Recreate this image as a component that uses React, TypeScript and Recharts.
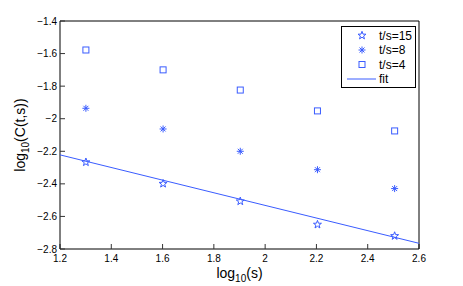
import React from 'react';
import { ComposedChart, Scatter, XAxis, YAxis, Legend } from 'recharts';

const sValues = [1.301, 1.602, 1.903, 2.204, 2.505];
const ts15 = [-2.267, -2.399, -2.507, -2.65, -2.72];
const ts8 = [-1.936, -2.063, -2.2, -2.313, -2.429];
const ts4 = [-1.578, -1.7, -1.824, -1.952, -2.075];
const fitX = [1.2, 2.6];
const fitY = [-2.222, -2.765];
const xTicks = [1.2, 1.4, 1.6, 1.8, 2, 2.2, 2.4, 2.6];
const yTicks = [-2.8, -2.6, -2.4, -2.2, -2, -1.8, -1.6, -1.4];
const seriesNames = ['t/s=15', 't/s=8', 't/s=4', 'fit'];

const BLUE = '#3a5cff';
const FONT = '"Liberation Sans", Arial, Helvetica, sans-serif';

const toPts = (xs: number[], ys: number[]) => xs.map((x, i) => ({ x, y: ys[i] }));
const d15 = toPts(sValues, ts15);
const d8 = toPts(sValues, ts8);
const d4 = toPts(sValues, ts4);
const dFit = toPts(fitX, fitY);

const fmt = (v: number) => String(v).replace('-', '\u2212');

function Pentagram({ cx, cy }: any) {
  const R = 4.2, r = 1.7;
  const pts: string[] = [];
  for (let i = 0; i < 10; i++) {
    const a = -Math.PI / 2 + (i * Math.PI) / 5;
    const rad = i % 2 === 0 ? R : r;
    pts.push(`${cx + rad * Math.cos(a)},${cy + rad * Math.sin(a)}`);
  }
  return <polygon points={pts.join(' ')} fill="none" stroke={BLUE} strokeWidth={1} />;
}

function Asterisk({ cx, cy }: any) {
  const r = 3.5;
  const d = r * 0.7071;
  return (
    <g stroke={BLUE} strokeWidth={1}>
      <line x1={cx - r} y1={cy} x2={cx + r} y2={cy} />
      <line x1={cx} y1={cy - r} x2={cx} y2={cy + r} />
      <line x1={cx - d} y1={cy - d} x2={cx + d} y2={cy + d} />
      <line x1={cx - d} y1={cy + d} x2={cx + d} y2={cy - d} />
    </g>
  );
}

function Square({ cx, cy }: any) {
  const h = 3;
  return <rect x={cx - h} y={cy - h} width={2 * h} height={2 * h} fill="none" stroke={BLUE} strokeWidth={1} />;
}

function Empty() {
  return <g />;
}

function LegendBox() {
  const rows = [9.5, 24, 38.5, 53];
  return (
    <svg width={75} height={62} style={{ display: 'block' }}>
      <rect x={0.5} y={0.5} width={74} height={61} fill="#fff" stroke="#000" strokeWidth={1} />
      <Pentagram cx={21} cy={rows[0]} />
      <Asterisk cx={21} cy={rows[1]} />
      <Square cx={21} cy={rows[2]} />
      <line x1={6} y1={rows[3]} x2={35} y2={rows[3]} stroke={BLUE} strokeWidth={1} />
      {seriesNames.map((n, i) => (
        <text key={n} x={38} y={rows[i] + 4} fontSize={12} fontFamily={FONT} fill="#000">
          {n}
        </text>
      ))}
    </svg>
  );
}

function XLabel(props: any) {
  const { viewBox } = props;
  const cx = viewBox.x + viewBox.width / 2;
  return (
    <text x={cx} y={278} textAnchor="middle" fontSize={14} fontFamily={FONT} fill="#000">
      log
      <tspan fontSize={10} dy={4}>10</tspan>
      <tspan dy={-4}>(s)</tspan>
    </text>
  );
}

function YLabel(props: any) {
  const { viewBox } = props;
  const cy = viewBox.y + viewBox.height / 2;
  const x = 25;
  return (
    <text
      x={x}
      y={cy}
      transform={`rotate(-90 ${x} ${cy})`}
      textAnchor="middle"
      fontSize={14}
      fontFamily={FONT}
      fill="#000"
    >
      log
      <tspan fontSize={10} dy={4}>10</tspan>
      <tspan dy={-4}>(C(t,s))</tspan>
    </text>
  );
}

export default function App() {
  return (
    <div style={{ position: 'absolute', left: 0, top: 0, width: 463, height: 286, background: '#fff' }}>
      <ComposedChart width={463} height={286} margin={{ top: 20, right: 43, bottom: 0, left: 0 }}>
        <XAxis
          xAxisId="b"
          type="number"
          dataKey="x"
          domain={[1.2, 2.6]}
          ticks={xTicks}
          tickFormatter={fmt}
          height={37}
          tickSize={-5}
          tickMargin={11}
          stroke="#000"
          tick={{ fontSize: 10, fontFamily: FONT, fill: '#000' }}
          tickLine={{ stroke: '#333' }}
          allowDataOverflow
          label={<XLabel />}
        />
        <XAxis
          xAxisId="t"
          type="number"
          dataKey="x"
          orientation="top"
          height={1}
          domain={[1.2, 2.6]}
          ticks={xTicks}
          tickSize={-5}
          tick={false}
          stroke="#000"
          tickLine={{ stroke: '#333' }}
          allowDataOverflow
        />
        <YAxis
          yAxisId="l"
          type="number"
          dataKey="y"
          domain={[-2.8, -1.4]}
          ticks={yTicks}
          tickFormatter={fmt}
          width={60}
          tickSize={-5}
          tickMargin={8}
          stroke="#000"
          tick={{ fontSize: 10, fontFamily: FONT, fill: '#000' }}
          tickLine={{ stroke: '#333' }}
          allowDataOverflow
          label={<YLabel />}
        />
        <YAxis
          yAxisId="r"
          type="number"
          dataKey="y"
          orientation="right"
          width={1}
          domain={[-2.8, -1.4]}
          ticks={yTicks}
          tickSize={-5}
          tick={false}
          stroke="#000"
          tickLine={{ stroke: '#333' }}
          allowDataOverflow
        />
        <Legend
          layout="vertical"
          align="center"
          verticalAlign="middle"
          content={() => <LegendBox />}
          wrapperStyle={{ position: 'absolute', left: 341, top: 26, width: 75, height: 62 }}
        />
        <Scatter
          name="fit"
          xAxisId="b"
          yAxisId="l"
          data={dFit}
          line={{ stroke: BLUE, strokeWidth: 1 }}
          shape={<Empty />}
          isAnimationActive={false}
        />
        <Scatter name="t/s=15" xAxisId="b" yAxisId="l" data={d15} shape={<Pentagram />} isAnimationActive={false} />
        <Scatter name="t/s=8" xAxisId="b" yAxisId="l" data={d8} shape={<Asterisk />} isAnimationActive={false} />
        <Scatter name="t/s=4" xAxisId="b" yAxisId="l" data={d4} shape={<Square />} isAnimationActive={false} />
      </ComposedChart>
    </div>
  );
}
